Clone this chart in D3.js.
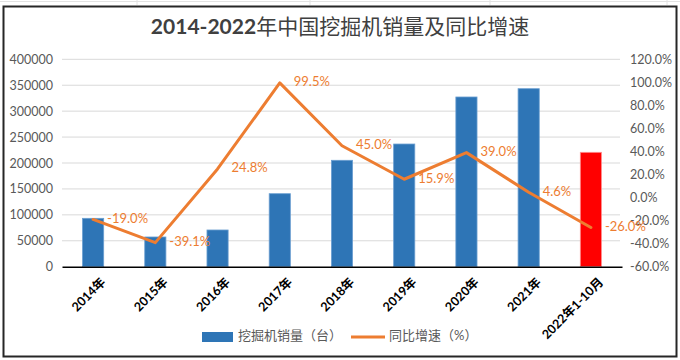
<!DOCTYPE html>
<html><head><meta charset="utf-8">
<script src="https://cdn.jsdelivr.net/npm/d3@7"></script>
<style>body{margin:0;background:#fff}svg{display:block}</style>
</head><body>
<svg id="c" width="680" height="360"></svg>
<script>
const categories = ["2014年","2015年","2016年","2017年","2018年","2019年","2020年","2021年","2022年1-10月"];
const sales = [93300, 57300, 70800, 140800, 205200, 236600, 327300, 343300, 220600];
const growth = [-19.0, -39.1, 24.8, 99.5, 45.0, 15.9, 39.0, 4.6, -26.0];
const leftTicks = [0,50000,100000,150000,200000,250000,300000,350000,400000];
const rightTicks = [-60,-40,-20,0,20,40,60,80,100,120];
const titleNum = "2014-2022";
const titleCjk = "年中国挖掘机销量及同比增速";
const legendLabels = ["挖掘机销量（台）","同比增速（%）"];

const svg = d3.select("#c");
const font = "Lato, 'Noto Sans CJK SC', sans-serif";
const plot = {l:62, r:622, t:59.3, b:266.7};
const pct = d => d3.format(".1f")(d).replace("\u2212","-") + "%";

svg.append("rect").attr("width",680).attr("height",360).attr("fill","#fff");
svg.append("line").attr("x1",0).attr("x2",680).attr("y1",1.5).attr("y2",1.5).attr("stroke","#e2e2e2");
[137,310,490,667].forEach(x=>svg.append("line").attr("x1",x).attr("x2",x).attr("y1",0).attr("y2",5).attr("stroke","#e2e2e2"));
svg.append("rect").attr("x",3.5).attr("y",6.5).attr("width",673).attr("height",350)
  .attr("fill","#fff").attr("stroke","#262626").attr("stroke-width",2);

const x = d3.scaleBand().domain(categories).range([plot.l, plot.r]).padding(0);
const yL = d3.scaleLinear().domain([0,400000]).range([plot.b, plot.t]);
const yR = d3.scaleLinear().domain([-60,120]).range([plot.b, plot.t]);

svg.append("g").selectAll("line").data(leftTicks.filter(d=>d>0)).join("line")
  .attr("x1",plot.l).attr("x2",620).attr("y1",d=>yL(d)).attr("y2",d=>yL(d))
  .attr("stroke","#d9d9d9").attr("stroke-width",1);

const gl = svg.append("g").attr("transform",`translate(${plot.l},0)`)
  .call(d3.axisLeft(yL).tickValues(leftTicks).tickFormat(d3.format("d")).tickSize(0).tickPadding(9));
gl.select(".domain").remove();
gl.selectAll("text").attr("font-family",font).attr("font-size",12.5).attr("fill","#595959");

const gr = svg.append("g").attr("transform",`translate(620,0)`)
  .call(d3.axisRight(yR).tickValues(rightTicks).tickFormat(pct).tickSize(0).tickPadding(10));
gr.select(".domain").remove();
gr.selectAll("text").attr("font-family",font).attr("font-size",12.5).attr("fill","#595959");

const bw = x.bandwidth()*0.34;
svg.append("g").selectAll("rect").data(categories).join("rect")
  .attr("x",(d)=>x(d)+x.bandwidth()/2-bw/2)
  .attr("y",(d,i)=>yL(sales[i]))
  .attr("width",bw)
  .attr("height",(d,i)=>yL(0)-yL(sales[i]))
  .attr("fill",(d,i)=>i===categories.length-1?"#ff0000":"#2e75b6")
  .attr("stroke",(d,i)=>i===categories.length-1?"#ff8f8f":"#6b9fd1")
  .attr("stroke-width",0.8);

const gx = svg.append("g").attr("transform",`translate(0,${plot.b})`)
  .call(d3.axisBottom(x).tickSize(0).tickPadding(0));
gx.select(".domain").attr("stroke","#000").attr("stroke-width",1.5);
gx.selectAll("text").attr("font-family",font).attr("font-size",12.5).attr("font-weight","bold")
  .attr("fill","#000").attr("text-anchor","end")
  .attr("transform","translate(7,10) rotate(-45)").attr("dy","0.7em").attr("y",0);

const cx = d=>x(d)+x.bandwidth()/2;
const line = d3.line().x((d,i)=>cx(categories[i])).y(d=>yR(d));
svg.append("path").datum(growth).attr("d",line).attr("fill","none")
  .attr("stroke","#ed7d31").attr("stroke-width",3).attr("stroke-linejoin","round").attr("stroke-linecap","round");

svg.append("g").selectAll("text").data(growth).join("text")
  .attr("x",(d,i)=>cx(categories[i])+14).attr("y",d=>yR(d))
  .attr("dominant-baseline","middle")
  .attr("font-family",font).attr("font-size",13).attr("fill","#ed7d31")
  .text(pct);

const t = svg.append("text").attr("x",340).attr("y",29).attr("text-anchor","middle")
  .attr("dominant-baseline","middle").attr("font-family",font).attr("fill","#404040").attr("font-size",21);
t.append("tspan").attr("font-weight","bold").text(titleNum);
t.append("tspan").attr("font-weight","normal").text(titleCjk);

const lg = svg.append("g");
lg.append("rect").attr("x",202).attr("y",332).attr("width",31).attr("height",10).attr("fill","#2e75b6");
lg.append("text").attr("x",238).attr("y",337).attr("dominant-baseline","middle")
  .attr("font-family",font).attr("font-size",13).attr("fill","#595959").text(legendLabels[0]);
lg.append("line").attr("x1",351).attr("x2",385).attr("y1",337).attr("y2",337)
  .attr("stroke","#ed7d31").attr("stroke-width",3);
lg.append("text").attr("x",389).attr("y",337).attr("dominant-baseline","middle")
  .attr("font-family",font).attr("font-size",13).attr("fill","#595959").text(legendLabels[1]);
</script>
</body></html>
